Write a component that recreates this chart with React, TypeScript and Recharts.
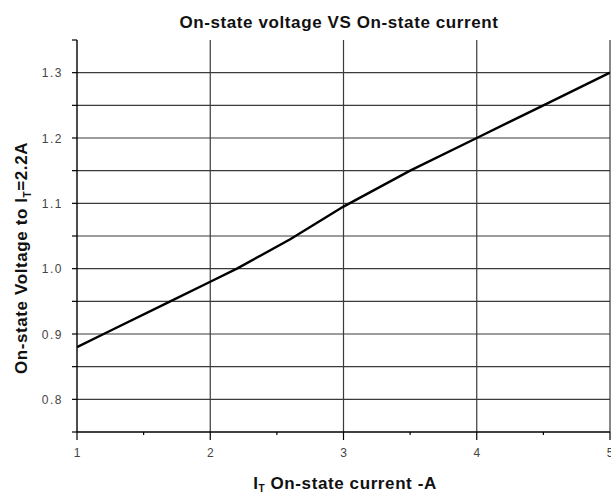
import React from 'react';
import { ComposedChart, Line, XAxis, YAxis, ReferenceLine } from 'recharts';

const currentA = [1, 1.2, 1.7, 2, 2.2, 2.6, 3, 3.5, 4, 4.5, 5];
const voltageV = [0.88, 0.9, 0.95, 0.98, 1.0, 1.045, 1.095, 1.15, 1.2, 1.25, 1.3];

const xTicks = [1, 1.5, 2, 2.5, 3, 3.5, 4, 4.5, 5];
const xMajor = [1, 2, 3, 4, 5];
const xGrid = [2, 3, 4, 5];
const yTicks = [0.75, 0.8, 0.85, 0.9, 0.95, 1.0, 1.05, 1.1, 1.15, 1.2, 1.25, 1.3, 1.35];
const yLabeled = [0.8, 0.9, 1.0, 1.1, 1.2, 1.3];
const yGrid = [0.8, 0.85, 0.9, 0.95, 1.0, 1.05, 1.1, 1.15, 1.2, 1.25, 1.3];

const data = currentA.map((x, i) => ({ x, v: voltageV[i] }));

const FONT = '"Liberation Sans", Arial, sans-serif';
const GRID = '#3a3a3a';

const XTick = (props: any) => {
  const { x, y, payload } = props;
  const major = xMajor.some((m) => Math.abs(m - payload.value) < 1e-6);
  return (
    <g>
      <line x1={x} y1={y} x2={x} y2={y + (major ? 8 : 3)} stroke="#000" strokeWidth={1.2} />
      {major && (
        <text x={x} y={y + 25} textAnchor="middle" fontSize={12} fill="#444" fontFamily={FONT}>
          {payload.value}
        </text>
      )}
    </g>
  );
};

const YTick = (props: any) => {
  const { x, y, payload } = props;
  const labeled = yLabeled.some((m) => Math.abs(m - payload.value) < 1e-6);
  return (
    <g>
      <line x1={x + 9} y1={y} x2={x + 14} y2={y} stroke="#000" strokeWidth={1.2} />
      {labeled && (
        <text x={x} y={y + 4.5} textAnchor="end" fontSize={12} fill="#444" fontFamily={FONT} letterSpacing={1.5}>
          {payload.value.toFixed(1)}
        </text>
      )}
    </g>
  );
};

export default function App() {
  return (
    <div style={{ position: 'absolute', left: 0, top: 0, width: 611, height: 495, background: '#fff' }}>
      <ComposedChart
        width={611}
        height={495}
        data={data}
        margin={{ top: 40, right: 1, bottom: 33, left: 17 }}
      >
        {yGrid.map((v) => (
          <ReferenceLine key={'h' + v} y={v} stroke={GRID} strokeWidth={1.2} />
        ))}
        {xGrid.map((v) => (
          <ReferenceLine key={'v' + v} x={v} stroke={GRID} strokeWidth={1.2} />
        ))}
        <XAxis
          dataKey="x"
          type="number"
          domain={[1, 5]}
          ticks={xTicks}
          interval={0}
          height={30}
          tickSize={0}
          tickMargin={0}
          tickLine={false}
          axisLine={{ stroke: '#000', strokeWidth: 1.4 }}
          tick={<XTick />}
          allowDataOverflow
        />
        <YAxis
          type="number"
          domain={[0.75, 1.35]}
          ticks={yTicks}
          interval={0}
          width={60}
          tickSize={0}
          tickMargin={14}
          tickLine={false}
          axisLine={{ stroke: '#000', strokeWidth: 1.4 }}
          tick={<YTick />}
          allowDataOverflow
        />
        <Line
          type="linear"
          dataKey="v"
          stroke="#000"
          strokeWidth={2.4}
          dot={false}
          isAnimationActive={false}
        />
      </ComposedChart>
      <svg
        width={611}
        height={495}
        style={{ position: 'absolute', left: 0, top: 0, pointerEvents: 'none' }}
      >
        <text x={339} y={28} textAnchor="middle" fontSize={17} fontWeight="bold" fill="#111" fontFamily={FONT} letterSpacing={0.6}>
          On-state voltage VS On-state current
        </text>
        <text x={345} y={489} textAnchor="middle" fontSize={17} fontWeight="bold" fill="#111" fontFamily={FONT} letterSpacing={0.6}>
          I<tspan fontSize={10} dy={3}>T</tspan>
          <tspan dy={-3}> On-state current -A</tspan>
        </text>
        <text
          x={0}
          y={0}
          transform="translate(27,258) rotate(-90)"
          textAnchor="middle"
          fontSize={17}
          fontWeight="bold"
          fill="#111"
          fontFamily={FONT}
          letterSpacing={0.6}
        >
          On-state Voltage to I<tspan fontSize={10} dy={4}>T</tspan>
          <tspan dy={-4}>=2.2A</tspan>
        </text>
      </svg>
    </div>
  );
}
